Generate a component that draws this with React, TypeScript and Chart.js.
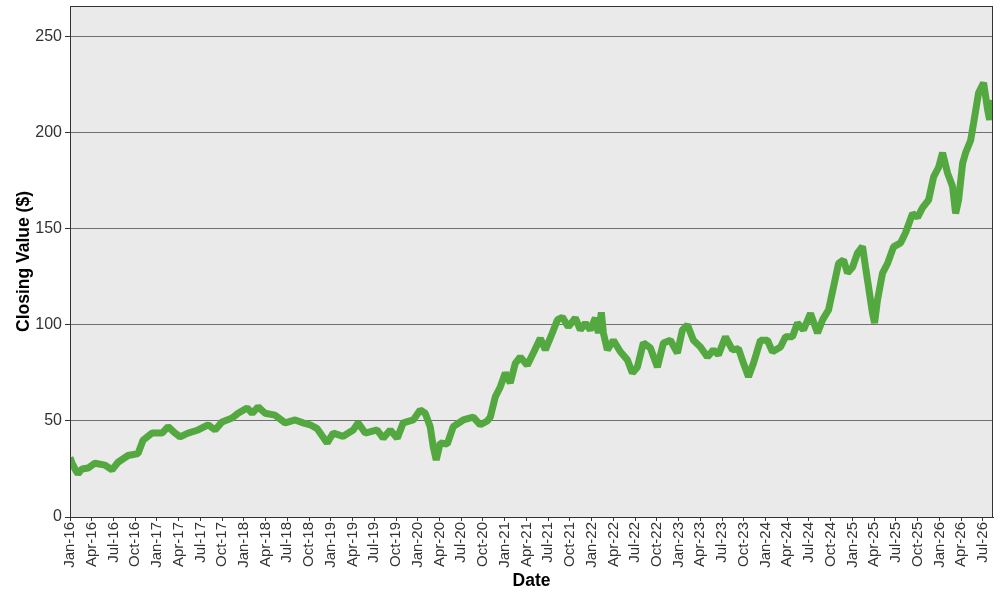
import React, { useEffect, useRef } from "react";
import { Chart, registerables } from "chart.js";

Chart.register(...registerables);

// Months elapsed since Jan 2016 (fractional)
const monthIndex: number[] = [
  0, 0.28, 0.83, 1.1, 1.66, 2.49, 3.45, 4.83, 5.8, 6.63, 8.01, 9.39, 10.08, 11.33, 12.71, 13.54,
  14.5, 15.19, 16.3, 17.68, 19.06, 20.03, 20.99, 22.38, 23.2, 24.45, 25.14, 25.97, 26.93, 28.31,
  29.7, 31.08, 32.18, 33.15, 34.12, 35.5, 36.33, 37.71, 39.09, 39.78, 40.75, 42.4, 43.23, 44.2,
  45.17, 45.99, 47.38, 48.34, 49.03, 49.72, 50.14, 50.55, 51.1, 52.07, 52.9, 54.28, 55.66, 56.63,
  57.6, 58.01, 58.7, 59.39, 60.08, 60.77, 61.46, 62.15, 63.12, 63.95, 64.92, 65.61, 66.57, 67.27,
  67.96, 68.78, 69.75, 70.44, 71.13, 71.82, 72.51, 72.93, 73.34, 73.62, 74.17, 75.0, 75.97, 76.93,
  77.62, 78.31, 79.14, 80.11, 81.08, 81.91, 82.87, 83.84, 84.53, 85.22, 86.05, 87.02, 87.98, 88.81,
  89.5, 90.47, 91.44, 92.27, 92.96, 93.65, 94.34, 95.3, 96.27, 96.96, 98.07, 98.76, 99.72, 100.41,
  101.24, 102.21, 103.18, 103.87, 104.7, 105.39, 106.08, 106.77, 107.32, 108.01, 108.7, 109.39,
  109.81, 110.22, 110.77, 111.05, 111.46, 112.15, 112.85, 113.67, 114.64, 115.33, 116.3, 116.99,
  117.68, 118.51, 119.2, 119.89, 120.44, 121.13, 121.82, 122.24, 122.65, 123.2, 123.62, 124.31,
  124.72, 125.41, 126.1, 126.66, 126.93, 127.35,
];

// Closing value ($)
const closingValue: number[] = [
  31, 28, 24, 22.5, 25, 25.5, 28, 27, 24.5, 28.5, 32, 33, 40, 43.7, 43.7, 47,
  43.7, 41.7, 43.7, 45.3, 48, 45.3, 49.5, 51.5, 54, 56.8, 54, 57.3, 54, 53,
  49, 50.5, 49, 48, 46, 38.5, 43.7, 42, 45.3, 49, 43.7, 45.3, 41, 45.3,
  41, 49, 50.5, 55.7, 54, 47, 36.5, 29.7, 38.5, 38, 47, 50.5, 52, 48,
  50, 52, 62.5, 67.7, 75, 69.8, 80, 83.3, 79, 85.4, 93, 87, 95.8, 102.6,
  104, 99, 103.6, 97.4, 101, 97.4, 103.6, 95.8, 106.5, 95.8, 87, 92, 86, 81.8,
  75, 78, 90.6, 88, 78, 90.6, 92, 85.4, 97.4, 100, 92, 88.5, 83.3, 87,
  84.4, 93.8, 87, 87.6, 80, 73, 80, 92, 92, 86, 88.5, 93.8, 93.8, 101,
  97.4, 106, 95.8, 102.6, 107.8, 119.8, 132, 133.8, 127, 130, 137.5, 140.8,
  130, 119.8, 106, 101, 113, 127, 132, 140.6, 142.7, 148, 158, 156,
  161, 165, 177, 182, 189.6, 179, 172, 158, 165, 184, 189.6, 196,
  205, 220.8, 226, 212, 206.8, 217,
];

const quarterNames: string[] = ["Jan", "Apr", "Jul", "Oct"];
const startYear = 16;
const yTicks: number[] = [0, 50, 100, 150, 200, 250];

const FONT = "'Liberation Sans', Arial, Helvetica, sans-serif";

export default function App() {
  const canvasRef = useRef<HTMLCanvasElement | null>(null);

  useEffect(() => {
    if (!canvasRef.current) return;
    const plotFrame = {
      id: "plotFrame",
      beforeDraw(chart: any) {
        const { ctx, chartArea } = chart;
        ctx.save();
        ctx.fillStyle = "#eaeaea";
        ctx.fillRect(chartArea.left, chartArea.top, chartArea.right - chartArea.left, chartArea.bottom - chartArea.top);
        ctx.restore();
      },
      afterDraw(chart: any) {
        const { ctx, chartArea } = chart;
        ctx.save();
        ctx.strokeStyle = "#333333";
        ctx.lineWidth = 1;
        ctx.strokeRect(
          Math.round(chartArea.left) + 0.5,
          Math.round(chartArea.top) + 0.5,
          Math.round(chartArea.right - chartArea.left) - 1,
          Math.round(chartArea.bottom - chartArea.top)
        );
        ctx.restore();
      },
    };

    const chart = new Chart(canvasRef.current, {
      type: "line",
      data: {
        datasets: [
          {
            label: "Closing Value",
            data: monthIndex.map((m, i) => ({ x: m, y: closingValue[i] })),
            borderColor: "#53a83f",
            backgroundColor: "#53a83f",
            borderWidth: 7,
            borderJoinStyle: "bevel",
            borderCapStyle: "butt",
            pointRadius: 0,
            tension: 0,
            fill: false,
          },
        ],
      },
      options: {
        responsive: false,
        animation: false,
        layout: { padding: { top: 6, right: 7, left: 0, bottom: 0 } },
        plugins: {
          legend: { display: false },
          tooltip: { enabled: false },
        },
        scales: {
          x: {
            type: "linear",
            min: 0,
            max: 127.4,
            afterFit: (scale: any) => {
              scale.height = 83;
              scale.paddingLeft = 0;
              scale.paddingRight = 0;
            },
            ticks: {
              stepSize: 3,
              includeBounds: false,
              autoSkip: false,
              minRotation: 90,
              maxRotation: 90,
              padding: 1,
              color: "#333333",
              font: { family: FONT, size: 15 },
              callback: (value: any) => {
                const v = Number(value);
                if (v % 3 !== 0) return "";
                const q = quarterNames[(v % 12) / 3];
                const yr = startYear + Math.floor(v / 12);
                return `${q}-${yr}`;
              },
            },
            grid: {
              drawOnChartArea: false,
              drawTicks: true,
              tickLength: 4,
              tickColor: "#333333",
            },
            border: { color: "#333333", width: 1 },
            title: {
              display: true,
              text: "Date",
              color: "#000000",
              font: { family: FONT, size: 17.5, weight: "bold" },
              padding: { top: 0, bottom: 8 },
            },
          },
          y: {
            type: "linear",
            min: 0,
            max: 266,
            afterFit: (scale: any) => {
              scale.width = 70;
              scale.paddingTop = 0;
              scale.paddingBottom = 0;
            },
            afterBuildTicks: (scale: any) => {
              scale.ticks = yTicks.map((v) => ({ value: v }));
            },
            ticks: {
              padding: 3,
              color: "#333333",
              font: { family: FONT, size: 16 },
            },
            grid: {
              color: "#707070",
              lineWidth: 1,
              drawTicks: true,
              tickLength: 5,
              tickColor: "#333333",
            },
            border: { color: "#333333", width: 1 },
            title: {
              display: true,
              text: "Closing Value ($)",
              color: "#000000",
              font: { family: FONT, size: 17.5, weight: "bold" },
              padding: { top: 14, bottom: 0 },
            },
          },
        },
      },
      plugins: [plotFrame],
    } as any);

    return () => {
      chart.destroy();
    };
  }, []);

  return (
    <div style={{ position: "fixed", left: 0, top: 0, width: 1000, height: 600, background: "#ffffff" }}>
      <canvas ref={canvasRef} width={1000} height={600} style={{ width: 1000, height: 600, display: "block" }} />
    </div>
  );
}
